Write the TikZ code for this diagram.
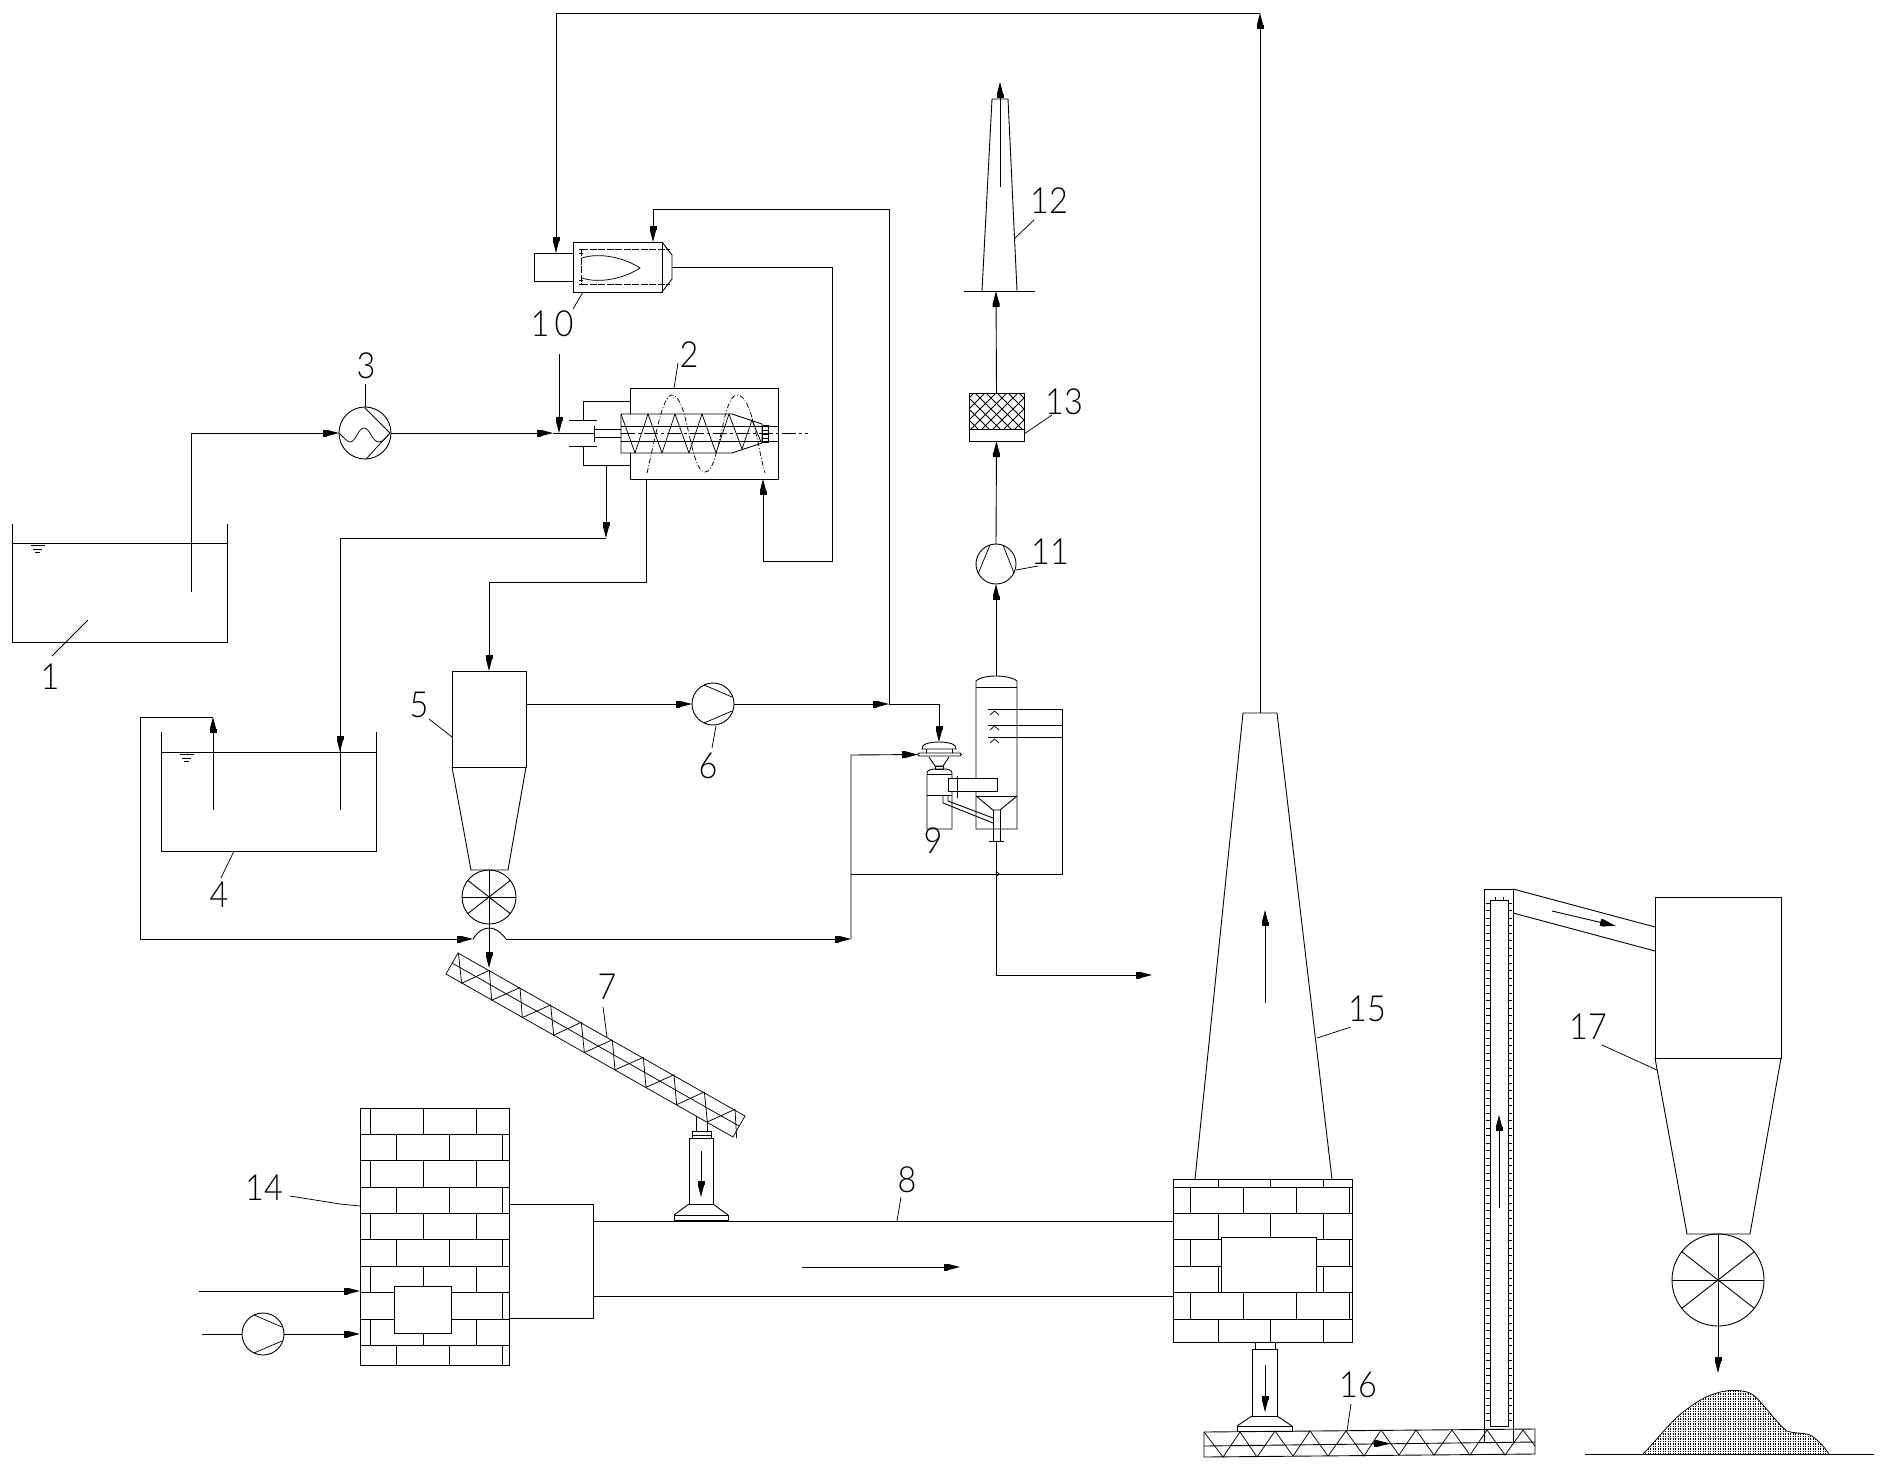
\documentclass[tikz,border=0pt]{standalone}
\usepackage{fontspec}
\usetikzlibrary{arrows.meta}
\newfontfamily\labfont[UprightFont=* Light]{Lato}
\newcommand{\eqbox}[5]{\node[eq,minimum width={(#4)-(#2)},minimum height={(#5)-(#3)}] (#1) at ({(#2+#4)/2},{(#3+#5)/2}) {};}
\newcommand{\rotor}[4]{\node[circ,minimum size={2*#4}] (#1) at (#2,#3) {};
  \foreach \ang in {0,38,142} {\draw[pipe] ({#2+#4*cos(\ang)},{#3+#4*sin(\ang)}) -- ({#2-#4*cos(\ang)},{#3-#4*sin(\ang)});}}
\newcommand{\hblower}[3]{\node[circ,minimum size=42] (#1) at (#2,#3) {};
  \draw[thin1] ({#2+19},{#3-7}) -- ({#2-9},{#3-19}); \draw[thin1] ({#2+19},{#3+7}) -- ({#2-9},{#3+19});}
\newcommand{\lab}[4]{\node[lab] (#1) at (#2,#3) {\scalebox{0.9}[1]{#4}};}
\tikzset{
  x=1pt,y=-1pt,
  pipe/.style={line width=0.9pt,line join=miter},
  thin1/.style={line width=0.75pt},
  flow/.style={pipe,-{Rectangle[length=4pt,width=7pt,sep=0pt]Triangle[length=12pt,width=6pt]}},
  eq/.style={draw,rectangle,inner sep=0pt,outer sep=0pt,line width=0.9pt},
  circ/.style={draw,circle,inner sep=0pt,outer sep=0pt,line width=0.9pt},
  white box/.style={eq,fill=white},
  lab/.style={inner sep=0pt,outer sep=0pt,font=\labfont\fontsize{36}{36}\selectfont},
  leader/.style={line width=0.75pt}
}
\begin{document}
\begin{tikzpicture}
\useasboundingbox[fill=white] (0,0) rectangle (1889,1472);
% ---------- tank 1
\draw[pipe] (12,524) -- (12,642) -- (227,642) -- (227,524);
\draw[pipe] (12,543) -- (227,543);
\draw[thin1] (31,545)--(45,545) (33,549)--(42,549) (35,552)--(40,552);
\lab{n1}{50}{677}{1}
\coordinate (ld1a) at (52,656); \coordinate (ld1b) at (88,620);
\draw[leader] (ld1a) -- (ld1b);
% ---------- exchanger 3
\node[circ,minimum size=52] (hx3) at (365,433) {};
\draw[thin1] (365,408) -- (390,433) -- (366,459);
\draw[thin1] (339,433) .. controls (346,440) and (348,442) .. (350,442) .. controls (356,442) and (358,428) .. (364,428) .. controls (370,428) and (372,442) .. (379,442) .. controls (384,442) and (386,437) .. (390,433);
\lab{n3}{366}{366}{3}
\coordinate (ld3) at (365,384);
\draw[leader] (ld3) -- (hx3.north);
\coordinate (t1a) at (191,592); \coordinate (t1b) at (191,433);
\draw[flow] (t1a) -- (t1b) -- (hx3.west);
\coordinate (f1) at (553,433); \coordinate (f2) at (594,433);
\draw[flow] (hx3.east) -- (f1);
\draw[pipe] (f1) -- (f2);
\coordinate (f3) at (559,354); \coordinate (f4) at (559,433);
\draw[flow] (f3) -- (f4);
% ---------- reactor 2
\eqbox{re2}{630}{388}{778}{479}
\draw[pipe,fill=white] (621,414) -- (732,414) -- (762,424) -- (762,443) -- (732,453) -- (621,453) -- cycle;
\draw[pipe] (621,426) -- (778,426) (621,441) -- (778,441);
\draw[pipe] (762,425) rectangle (768,442);
\draw[thin1] (762,430)--(768,430) (762,434)--(768,434) (762,438)--(768,438);
\draw[pipe,dash pattern=on 14pt off 3pt on 3pt off 3pt] (621,433) -- (808,433);
\draw[thin1] (621,414) -- (635,453) -- (648,414) -- (662,453) -- (675,414) -- (689,453) -- (702,414) -- (716,453) -- (729,414) -- (742,449) -- (752,420) -- (761,442);
\draw[thin1,dash pattern=on 5pt off 2pt on 1pt off 2pt] (647,473) .. controls (655,440) and (662,395) .. (672,395) .. controls (688,395) and (690,472) .. (705,472) .. controls (720,472) and (722,395) .. (737,395) .. controls (752,395) and (757,445) .. (765,473);
\draw[pipe] (594,426) -- (594,442) (594,429) -- (621,429) (594,437) -- (621,437);
\draw[pipe] (569,420) -- (597,420) (569,446) -- (597,446);
\draw[pipe] (630,401) -- (583,401) -- (583,420) (583,446) -- (583,465) -- (630,465);
\lab{n2}{689}{355}{2}
\coordinate (ld2) at (678,363);
\draw[leader] (ld2) -- (674,388);
% ---------- burner 10
\eqbox{bu10}{573}{242}{662}{292}
\eqbox{bu10a}{534}{253}{573}{281}
\draw[pipe] (662,242) -- (672,255) -- (672,279) -- (662,292);
\draw[thin1,dash pattern=on 7pt off 1.5pt] (581,249) -- (670,249) (581,284) -- (670,284) (581,249) -- (581,284);
\draw[thin1] (582,258) .. controls (600,252) and (625,258) .. (640,268) .. controls (625,278) and (600,284) .. (582,278);
\draw[thin1] (579,249)--(583,249) (579,253)--(583,253) (579,280)--(583,280) (579,284)--(583,284);
\lab{n10}{552}{324}{1\,0}
\coordinate (ld10) at (573,309);
\draw[leader] (ld10) -- (583,292);
\coordinate (nose) at (672,267); \coordinate (e1) at (832,267); \coordinate (e2) at (832,561); \coordinate (e3) at (763,561); \coordinate (e4) at (763,479);
\draw[flow] (nose) -- (e1) -- (e2) -- (e3) -- (e4);
\coordinate (j889) at (889,704); \coordinate (g1) at (889,209); \coordinate (g2) at (653,209); \coordinate (g3) at (653,242);
\draw[flow] (j889) -- (g1) -- (g2) -- (g3);
\coordinate (top1) at (556,13); \coordinate (top2) at (556,253); \coordinate (top3) at (1260,13);
\draw[flow] (top3) -- (top1) -- (top2);
% ---------- tank 4
\draw[pipe] (161,732) -- (161,851) -- (376,851) -- (376,732);
\draw[pipe] (161,752) -- (376,752);
\draw[thin1] (180,754)--(194,754) (182,758)--(191,758) (184,761)--(189,761);
\lab{n4}{219}{895}{4}
\coordinate (ld4) at (221,878);
\draw[leader] (ld4) -- (234,851);
\coordinate (o1) at (606,465); \coordinate (o2) at (606,538); \coordinate (o3) at (340,538); \coordinate (o4) at (340,752); \coordinate (o5) at (340,810);
\draw[flow] (o1) -- (o2);
\draw[pipe] (o2) -- (o3) -- (o5);
\draw[flow] (o3) -- (o4);
\coordinate (r1) at (213,810); \coordinate (r2) at (213,717); \coordinate (r3) at (140,717); \coordinate (r4) at (140,939); \coordinate (r5) at (473,939);
\draw[flow] (r1) -- (r2);
\draw[flow] (r2) -- (r3) -- (r4) -- (r5);
\coordinate (r6) at (506,939);
\draw[pipe] (r5) .. controls (478,931) and (484,928) .. (489,928) .. controls (494,928) and (500,931) .. (r6);
% ---------- cyclone 5
\eqbox{cy5}{452}{671}{526}{767}
\draw[pipe] (452,767) -- (471,870) -- (508,870) -- (526,767);
\rotor{rv5}{489}{897}{27}
\lab{n5}{419}{705}{5}
\coordinate (ld5) at (429,719);
\draw[leader] (ld5) -- (452,737);
\coordinate (p1) at (646,479); \coordinate (p2) at (646,582); \coordinate (p3) at (489,582);
\draw[flow] (p1) -- (p2) -- (p3) -- (cy5.north);
\coordinate (rv5a) at (489,870); \coordinate (rv5b) at (489,968);
\draw[flow] (rv5a) -- (rv5b);
% ---------- blower 6
\hblower{bl6}{713}{704}
\coordinate (c5o) at (526,704);
\draw[flow] (c5o) -- (bl6.west);
\draw[flow] (bl6.east) -- (j889);
\coordinate (b9) at (939,704);
\draw[flow] (j889) -- (b9) -- (939,742);
\lab{n6}{708}{766}{6}
\coordinate (ld6) at (716,726);
\draw[leader] (ld6) -- (712,748);
% ---------- scrubber 9 
\draw[pipe] (927,829) -- (927,773) .. controls (927,770) and (932,769) .. (935,769) -- (944,769) .. controls (948,769) and (952,770) .. (952,773) -- (952,829) -- cycle;
\draw[pipe] (927,774) -- (952,774) (927,795) -- (952,795);
\draw[pipe] (929,757) -- (935,766) -- (943,766) -- (949,757);
\draw[pipe] (935,766) rectangle (943,769);
\draw[pipe] (920,753) -- (960,753) .. controls (962,753) and (962,756) .. (960,756) -- (920,756) .. controls (917,756) and (917,753) .. (920,753) -- cycle;
\draw[pipe] (926,753) -- (926,749) (952,753) -- (952,749);
\draw[pipe] (922,749) -- (956,749) .. controls (957,744) and (948,742) .. (939,742) .. controls (930,742) and (921,744) .. (922,749) -- cycle;
\lab{n9}{933}{841}{9}
\coordinate (j851a) at (851,939); \coordinate (j851b) at (851,755); \coordinate (plate) at (918,754.5);
\draw[flow] (r6) -- (j851a);
\draw[flow] (j851a) -- (j851b) -- (plate);
% tower
\draw[pipe] (976,829) -- (976,681) .. controls (980,677) and (990,676) .. (996,676) .. controls (1002,676) and (1012,677) .. (1017,681) -- (1017,829) -- cycle;
\draw[pipe] (976,687) -- (1017,687) (976,796) -- (1017,796);
\draw[pipe] (976,796) -- (993,810) (1017,796) -- (1000,810) (993,810) -- (1000,810);
\draw[pipe] (993,810) -- (993,841) (1000,810) -- (1000,841) (989,841) -- (1004,841);
\draw[white box] (948,778) rectangle (997,791);
\draw[pipe] (957,776) -- (957,798);
\draw[pipe] (943,795) -- (943,803) -- (993,823) (948,795) -- (948,801) -- (993,818);
% sprays
\draw[pipe] (988,709) -- (1062,709) -- (1062,874) -- (851,874) (988,725) -- (1062,725) (988,737) -- (1062,737);
\foreach \yy in {710,725,738} {\draw[thin1] (990,\yy+5) -- (994.5,\yy+1) -- (999,\yy+5);}
% tower outlets
\coordinate (w1) at (996,841); \coordinate (w2) at (996,975); \coordinate (w3) at (1152,975);
\draw[flow] (w1) -- (w2) -- (w3);
\draw[thin1] (996,871) -- (999,874) -- (996,877);
% ---------- pump 11, filter 13, stack 12
\node[circ,minimum size=40] (pu11) at (996,564) {};
\draw[thin1] (990,545) -- (978,574) (1003,545) -- (1014,573);
\coordinate (tw) at (996,676);
\draw[flow] (tw) -- (pu11.south);
\eqbox{fi13}{969}{393}{1024}{441}
\draw[flow] (pu11.north) -- (fi13.south);
\draw[pipe] (969,429) -- (1024,429);
\begin{scope}
\clip (969,393) rectangle (1024,429);
\foreach \d in {-60,-49,...,60} {\draw[thin1] (969+\d,393) -- (1024+\d,448); \draw[thin1] (1024-\d,393) -- (969-\d,448);}
\end{scope}
\coordinate (st) at (996,291);
\draw[flow] (fi13.north) -- (st);
\coordinate (s12a) at (964,291); \coordinate (s12b) at (1035,291);
\draw[pipe] (s12a) -- (s12b);
\draw[pipe] (982,291) -- (992,99) -- (1008,99) -- (1017,291);
\coordinate (s12c) at (1000,187); \coordinate (s12d) at (1000,82);
\draw[flow] (s12c) -- (s12d);
\lab{n12}{1049}{201}{12}
\coordinate (ld12) at (1034,220);
\draw[leader] (ld12) -- (1015,238);
\lab{n13}{1064}{402}{13}
\coordinate (ld13) at (1052,415);
\draw[leader] (ld13) -- (1024,434);
\lab{n11}{1050}{552}{11}
\coordinate (ld11) at (1038,566);
\draw[leader] (ld11) -- (1016,570);
% ---------- conveyor 7
\draw[pipe,thin1] (458,953) -- (745,1116) -- (733,1137) -- (446,974) -- cycle;
\draw[thin1] (452,963) -- (739,1126);
\foreach \tx/\bx/\nx in {115/125/208,208/215/300,300/307/392,392/401/484,484/493/577,577/585/670,670/678/762,762/770/853,853/862/945} {
  \draw[thin1] ({420+\tx/3},{860+(278+(\tx-115)*0.566)/3}) -- ({420+\bx/3},{860+(343+(\bx-77)*0.564)/3}) -- ({420+\nx/3},{860+(278+(\nx-115)*0.566)/3});
}
\draw[thin1] ({420+945/3},{860+(278+(945-115)*0.566)/3}) -- ({420+950/3},{860+(343+(950-77)*0.564)/3});
\lab{n7}{607}{987}{7}
\coordinate (ld7) at (603,1007);
\draw[leader] (ld7) -- (607,1037);
% ---------- feeder to kiln
\draw[pipe] (696,1116) -- (696,1131) (707,1122) -- (707,1131);
\draw[pipe] (692,1131) rectangle (711,1138); \draw[pipe] (692,1135) -- (711,1135);
\draw[pipe] (689,1138) rectangle (713,1204);
\draw[pipe] (689,1204) -- (674,1215) (713,1204) -- (728,1215);
\draw[pipe] (674,1215) rectangle (728,1220); 
\draw[line width=1.6pt] (674,1221) -- (728,1221);
\coordinate (fa) at (701,1151); \coordinate (fb) at (701,1197);
\draw[flow] (fa) -- (fb);
% ---------- furnace 14
\eqbox{br14}{360}{1108}{509}{1365}
\foreach \yy in {1134,1160,1187,1213,1239,1266,1292,1319,1345} {\draw[pipe] (360,\yy) -- (509,\yy);}
\foreach \a/\b in {1108/1134,1160/1187,1213/1239,1266/1292,1319/1345} {\draw[pipe] (370,\a) -- (370,\b) (423,\a) -- (423,\b) (476,\a) -- (476,\b);}
\foreach \a/\b in {1134/1160,1187/1213,1239/1266,1292/1319,1345/1365} {\draw[pipe] (396,\a) -- (396,\b) (449,\a) -- (449,\b) (502,\a) -- (502,\b);}
\draw[white box] (394,1286) rectangle (451,1333);
\eqbox{bx14}{509}{1204}{593}{1318}
\lab{n14}{264}{1188}{14}
\coordinate (ld14) at (290,1196);
\draw[leader] (ld14) -- (340,1204) -- (360,1206);
\coordinate (a1) at (199,1291); \coordinate (a2) at (360,1291);
\draw[flow] (a1) -- (a2);
\hblower{pu0}{263}{1334}
\coordinate (a3) at (202,1334); \coordinate (a4) at (360,1334);
\draw[pipe] (a3) -- (pu0.west);
\draw[flow] (pu0.east) -- (a4);
% ---------- kiln 8
\coordinate (k1) at (593,1221); \coordinate (k2) at (1173,1221); \coordinate (k3) at (593,1296); \coordinate (k4) at (1173,1296);
\draw[pipe] (k1) -- (k2) (k3) -- (k4);
\coordinate (k5) at (802,1267); \coordinate (k6) at (960,1267);
\draw[flow] (k5) -- (k6);
\lab{n8}{907}{1180}{8}
\coordinate (ld8) at (901,1197);
\draw[leader] (ld8) -- (897,1221);
% ---------- base 15 and stack
\eqbox{br15}{1173}{1179}{1352}{1342}
\foreach \yy in {1187,1213,1239,1266,1292,1319} {\draw[pipe] (1173,\yy) -- (1352,\yy);}
\foreach \a/\b in {1179/1187,1213/1239,1266/1292,1319/1342} {\draw[pipe] (1218,\a) -- (1218,\b) (1270,\a) -- (1270,\b) (1323,\a) -- (1323,\b);}
\foreach \a/\b in {1187/1213,1239/1266,1292/1319} {\draw[pipe] (1190,\a) -- (1190,\b) (1243,\a) -- (1243,\b) (1296,\a) -- (1296,\b) (1349,\a) -- (1349,\b);}
\draw[white box] (1221,1237) rectangle (1316,1292);
\draw[pipe] (1195,1179) -- (1243,713) -- (1277,713) -- (1332,1179);
\coordinate (s15) at (1260,713);
\draw[flow] (s15) -- (top3);
\coordinate (s15a) at (1265,1003); \coordinate (s15b) at (1265,910);
\draw[flow] (s15a) -- (s15b);
\lab{n15}{1367}{1009}{15}
\coordinate (ld15) at (1351,1027);
\draw[leader] (ld15) -- (1317,1038);
% ---------- feeder below 15
\draw[pipe] (1255,1342) rectangle (1275,1349);
\draw[pipe] (1252,1349) rectangle (1277,1416);
\draw[pipe] (1252,1416) -- (1237,1426) (1277,1416) -- (1292,1426);
\draw[pipe] (1237,1426) rectangle (1292,1431);
\coordinate (h1) at (1265,1365); \coordinate (h2) at (1265,1412);
\draw[flow] (h1) -- (h2);
% ---------- conveyor 16
\draw[pipe] (1204,1432) -- (1535,1429) -- (1535,1454) -- (1204,1457) -- cycle;
\draw[pipe] (1204,1446) -- (1535,1442);
\draw[thin1] (1204,1432) -- (1223,1457) -- (1240,1432) -- (1257,1457) -- (1275,1431) -- (1293,1456) -- (1310,1431) -- (1328,1456) -- (1346,1431) -- (1364,1456) -- (1381,1430) -- (1399,1455) -- (1416,1430) -- (1434,1455) -- (1452,1430) -- (1470,1455) -- (1487,1430) -- (1505,1455) -- (1523,1430) -- (1535,1446);
\coordinate (c16a) at (1372,1443.5); \coordinate (c16b) at (1390,1443.5);
\draw[flow] (c16a) -- (c16b);
\lab{n16}{1358}{1385}{16}
\coordinate (ld16) at (1351,1404);
\draw[leader] (ld16) -- (1347,1431);
% ---------- elevator
\draw[pipe] (1484,1442) -- (1484,889) -- (1513,889) -- (1513,1442);
\eqbox{el}{1490}{900}{1508}{1426}
\foreach \yy in {903,910.5,...,1424} {\draw[thin1] (1486,\yy) -- (1490,\yy) (1508,\yy) -- (1512,\yy);}
\draw[thin1] (1495,897) -- (1495,900) (1503,897) -- (1503,900);
\coordinate (el1) at (1499,1208); \coordinate (el2) at (1499,1115);
\draw[flow] (el1) -- (el2);
% ---------- cyclone 17
\eqbox{cy17}{1655}{897}{1781}{1058}
\coordinate (ho1) at (1513,889); \coordinate (ho2) at (1655,927); \coordinate (ho3) at (1513,913); \coordinate (ho4) at (1655,951);
\draw[pipe] (ho1) -- (ho2) (ho3) -- (ho4);
\coordinate (ho5) at (1552,911); \coordinate (ho6) at (1616,926);
\draw[flow] (ho5) -- (ho6);
\draw[pipe] (1655,1058) -- (1687,1234) -- (1750,1234) -- (1781,1058);
\rotor{rv17}{1718}{1280}{46}
\coordinate (cy17b) at (1718,1234); \coordinate (pile) at (1718,1373);
\draw[flow] (cy17b) -- (pile);
\lab{n17}{1588}{1027}{17}
\coordinate (ld17) at (1602,1045);
\draw[leader] (ld17) -- (1657,1070);
% ---------- ground and pile
\coordinate (gr1) at (1585,1454); \coordinate (gr2) at (1874,1454);
\draw[pipe] (gr1) -- (gr2);
\begin{scope}
\clip (1643,1454) .. controls (1655,1442) and (1670,1422) .. (1683,1412) .. controls (1695,1403) and (1705,1396) .. (1717,1393) .. controls (1725,1390) and (1740,1389) .. (1750,1393) .. controls (1760,1398) and (1775,1422) .. (1787,1431) .. controls (1795,1434) and (1805,1432) .. (1812,1436) .. controls (1820,1442) and (1825,1448) .. (1829,1454) -- cycle;
\foreach \yy in {1389,1391.5,...,1454} {\draw[line width=1.1pt,dash pattern=on 1.3pt off 1.2pt] (1640,\yy) -- (1830,\yy);}
\end{scope}
\draw[thin1] (1643,1454) .. controls (1655,1442) and (1670,1422) .. (1683,1412) .. controls (1695,1403) and (1705,1396) .. (1717,1393) .. controls (1725,1390) and (1740,1389) .. (1750,1393) .. controls (1760,1398) and (1775,1422) .. (1787,1431) .. controls (1795,1434) and (1805,1432) .. (1812,1436) .. controls (1820,1442) and (1825,1448) .. (1829,1454);
\end{tikzpicture}
\end{document}
